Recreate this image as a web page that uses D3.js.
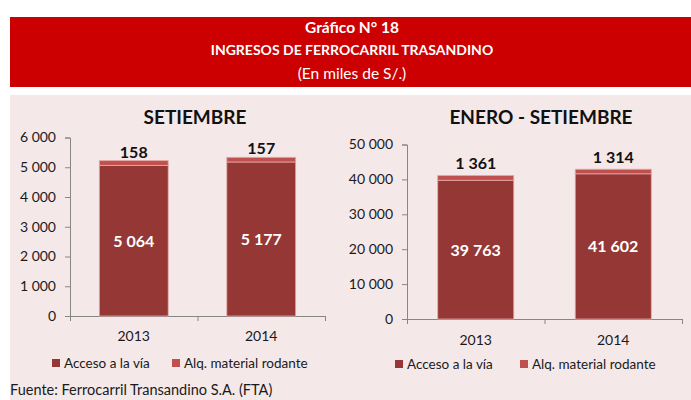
<!DOCTYPE html>
<html>
<head>
<meta charset="utf-8">
<script src="https://cdn.jsdelivr.net/npm/d3@7"></script>
<style>
  body { margin: 0; background: #fff; }
  svg { display: block; font-family: Lato, "Noto Sans", sans-serif; }
</style>
</head>
<body>
<svg id="chart" width="691" height="400"></svg>
<script>
// data
let years = ["2013", "2014"];
let seriesNames = ["Acceso a la vía", "Alq. material rodante"];
let sepAcceso = [5064, 5177];
let sepAlq = [158, 157];
let eneAcceso = [39763, 41602];
let eneAlq = [1361, 1314];
let sepTicks = [0, 1000, 2000, 3000, 4000, 5000, 6000];
let eneTicks = [0, 10000, 20000, 30000, 40000, 50000];

let colorScale = d3.scaleOrdinal()
    .domain(seriesNames)
    .range(["#953735", "#c0504d"]);

let fmt = d3.formatLocale({ decimal: ",", thousands: " ", grouping: [3], currency: ["", ""] }).format(",d");

let svg = d3.select("#chart");

// header
svg.append("rect").attr("x", 10).attr("y", 17).attr("width", 681).attr("height", 70).attr("fill", "#cc0000");
let header = [
    { text: "Gráfico N° 18", y: 33, weight: "bold", size: "15.5px" },
    { text: "INGRESOS DE FERROCARRIL TRASANDINO", y: 55, weight: "bold", size: "14px" },
    { text: "(En miles de S/.)", y: 79, weight: "normal", size: "15.5px" }
];
svg.selectAll("text.header").data(header).enter()
    .append("text")
    .attr("class", "header")
    .attr("x", 352)
    .attr("y", (d) => d.y)
    .attr("text-anchor", "middle")
    .attr("fill", "white")
    .attr("font-size", (d) => d.size)
    .attr("font-weight", (d) => d.weight)
    .text((d) => d.text);

// panel background
svg.append("rect").attr("x", 10).attr("y", 95).attr("width", 681).attr("height", 305).attr("fill", "#f5e8e9");

function drawPanel(cfg) {
    let g = svg.append("g");

    let x = d3.scaleBand()
        .domain(years)
        .range([cfg.x0, cfg.x1])
        .paddingInner(cfg.pad)
        .paddingOuter(cfg.pad / 2);

    let y = d3.scaleLinear()
        .domain([0, cfg.ticks[cfg.ticks.length - 1]])
        .range([cfg.y0, cfg.y1]);

    let yAxis = g.append("g")
        .attr("transform", `translate(${cfg.x0},0)`)
        .call(d3.axisLeft(y).tickValues(cfg.ticks).tickFormat(fmt).tickSize(5).tickPadding(9));
    yAxis.select(".domain").attr("stroke", "#868686");
    yAxis.selectAll(".tick line").attr("stroke", "#868686");
    yAxis.selectAll("text").attr("font-size", "14px").attr("fill", "#1a1a1a")
        .attr("font-family", "Lato, 'Noto Sans', sans-serif");

    // x axis: boundaries between categories
    let xb = d3.scaleLinear().domain([0, years.length]).range([cfg.x0, cfg.x1]);
    let xAxis = g.append("g")
        .attr("transform", `translate(0,${cfg.y0})`)
        .call(d3.axisBottom(xb).tickValues(d3.range(years.length + 1)).tickFormat("").tickSizeInner(5).tickSizeOuter(5));
    xAxis.selectAll(".domain, .tick line").attr("stroke", "#868686");

    let stackData = years.map((yr, i) => ({ year: yr, acceso: cfg.acceso[i], alq: cfg.alq[i] }));
    let series = d3.stack().keys(["acceso", "alq"])(stackData);

    g.selectAll("g.series").data(series).enter()
        .append("g")
        .attr("fill", (d, i) => colorScale(seriesNames[i]))
        .selectAll("rect")
        .data((d) => d)
        .enter()
        .append("rect")
        .attr("x", (d) => x(d.data.year))
        .attr("width", x.bandwidth())
        .attr("y", (d) => y(d[1]))
        .attr("height", (d) => y(d[0]) - y(d[1]))
        .attr("stroke", "#e4a9a8")
        .attr("stroke-width", 0.8);

    // inner labels
    g.selectAll("text.inner").data(stackData).enter()
        .append("text")
        .attr("x", (d) => x(d.year) + x.bandwidth() / 2)
        .attr("y", (d) => (y(0) + y(d.acceso)) / 2 + 6)
        .attr("text-anchor", "middle")
        .attr("fill", "white")
        .attr("font-size", "16px")
        .attr("font-weight", "bold")
        .text((d) => fmt(d.acceso));

    // top labels
    g.selectAll("text.top").data(stackData).enter()
        .append("text")
        .attr("x", (d) => x(d.year) + x.bandwidth() / 2)
        .attr("y", (d) => y(d.acceso + d.alq) - cfg.topOffset)
        .attr("text-anchor", "middle")
        .attr("fill", "#111")
        .attr("font-size", "16px")
        .attr("font-weight", "bold")
        .text((d) => fmt(d.alq));

    // category labels
    g.selectAll("text.year").data(years).enter()
        .append("text")
        .attr("x", (d) => x(d) + x.bandwidth() / 2)
        .attr("y", cfg.yearY)
        .attr("text-anchor", "middle")
        .attr("fill", "#1a1a1a")
        .attr("font-size", "14px")
        .text((d) => d);

    // title
    g.append("text")
        .attr("x", cfg.titleX)
        .attr("y", 124)
        .attr("text-anchor", "middle")
        .attr("fill", "#111")
        .attr("font-size", "19px")
        .attr("font-weight", "bold")
        .text(cfg.title);

    // legend
    let leg = g.selectAll("g.legend").data(seriesNames).enter()
        .append("g")
        .attr("transform", (d, i) => `translate(${cfg.legendX[i]},${cfg.legendY})`);
    leg.append("rect")
        .attr("x", 0).attr("y", -9)
        .attr("width", 8).attr("height", 8)
        .attr("fill", (d) => colorScale(d));
    leg.append("text")
        .attr("x", 12)
        .attr("y", 0)
        .attr("fill", "#1a1a1a")
        .attr("font-size", "13.5px")
        .text((d) => d);
}

drawPanel({
    title: "SETIEMBRE", titleX: 195,
    x0: 70, x1: 325, y0: 316, y1: 137.5, pad: 0.46,
    ticks: sepTicks, acceso: sepAcceso, alq: sepAlq,
    topOffset: 3, yearY: 341, legendX: [52, 172], legendY: 368
});

drawPanel({
    title: "ENERO - SETIEMBRE", titleX: 541,
    x0: 407, x1: 682, y0: 319, y1: 144.5, pad: 0.447,
    ticks: eneTicks, acceso: eneAcceso, alq: eneAlq,
    topOffset: 6, yearY: 345, legendX: [395, 520], legendY: 369
});

// source
svg.append("text")
    .attr("x", 10)
    .attr("y", 395)
    .attr("fill", "#1a1a1a")
    .attr("font-size", "14.5px")
    .text("Fuente: Ferrocarril Transandino S.A. (FTA)");
</script>
</body>
</html>
